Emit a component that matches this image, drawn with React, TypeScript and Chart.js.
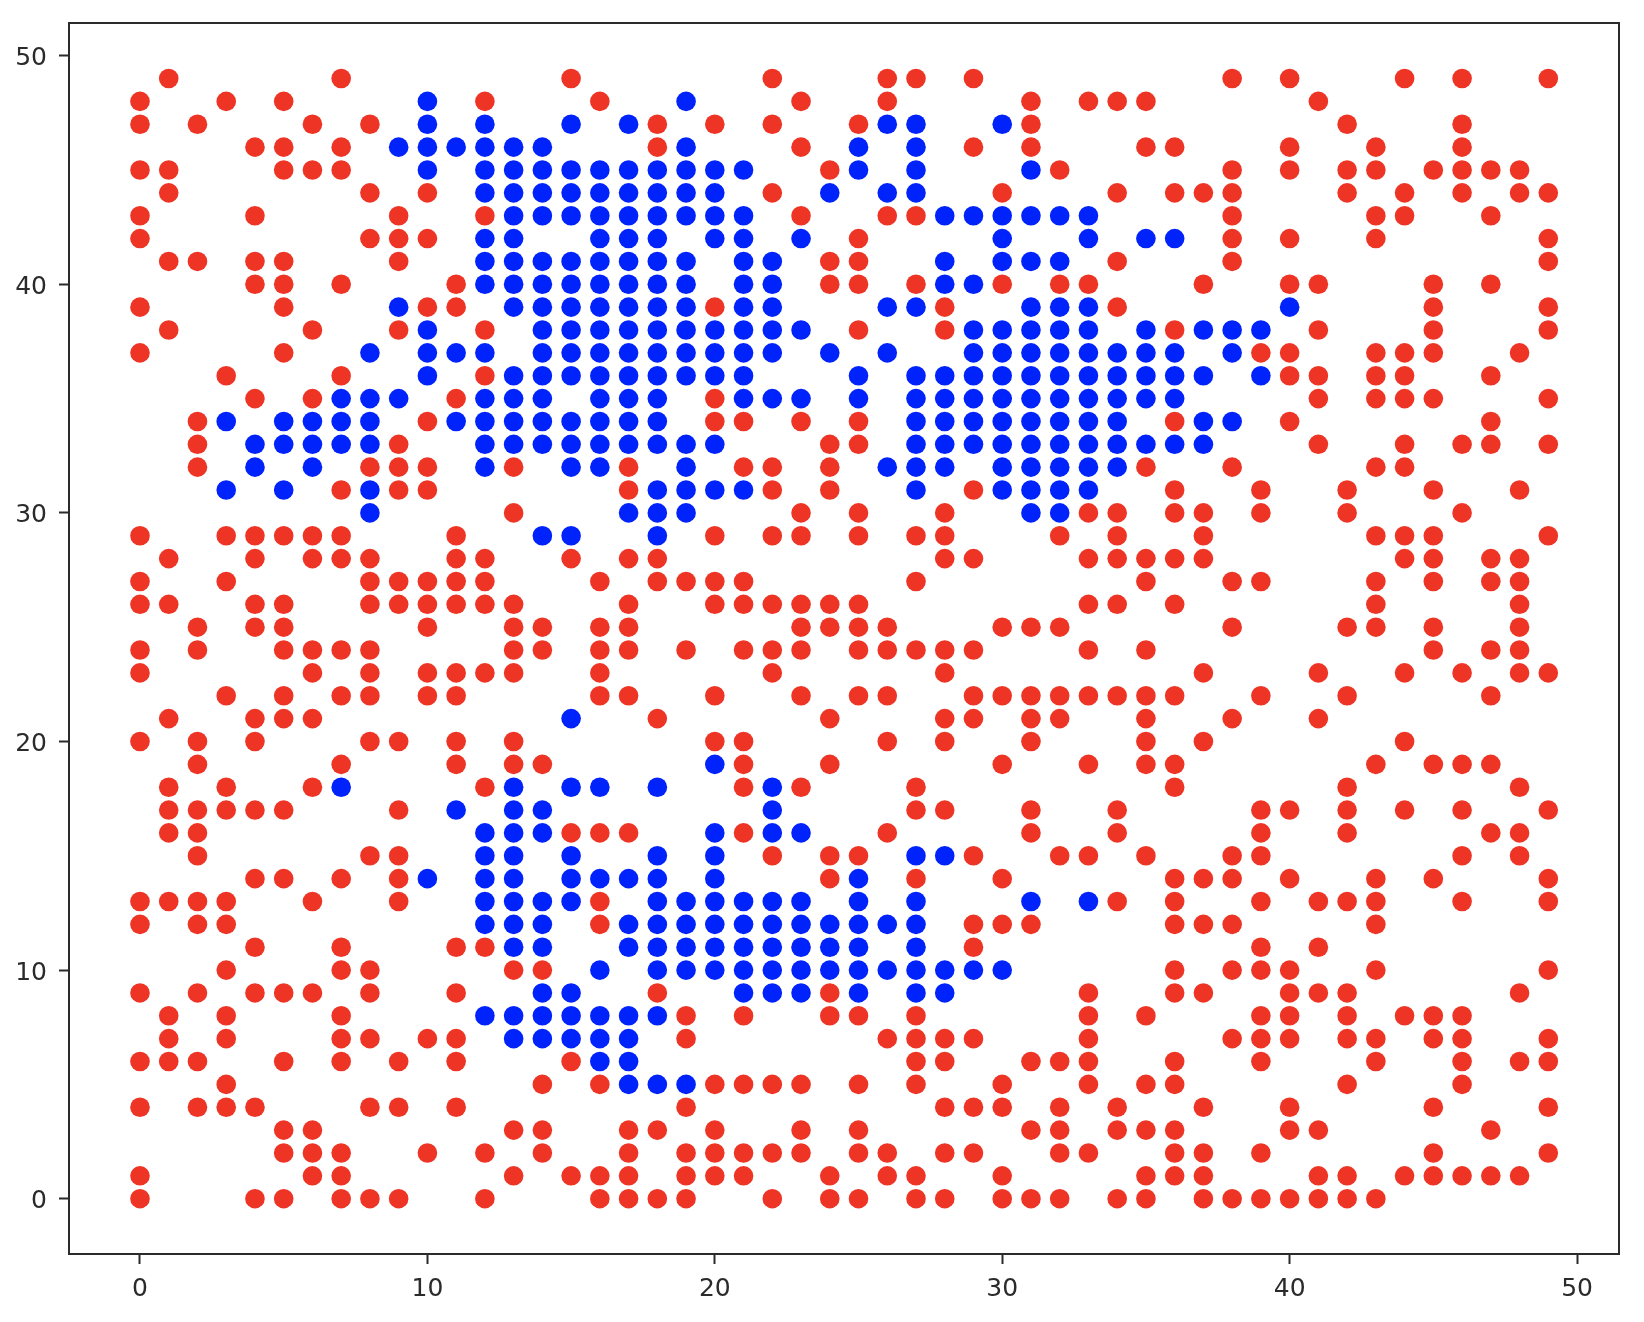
import React, { useEffect, useRef } from "react";
import { Chart, registerables } from "chart.js";

Chart.register(...registerables);

// x positions of the red points, one list per y value (index = y)
const redByRow: number[][] = [
  [0,4,5,7,8,9,12,16,17,18,19,22,24,25,27,28,30,31,32,34,35,37,38,39,40,41,42,43],
  [0,6,7,13,15,16,17,19,20,21,24,26,27,30,35,36,37,41,42,44,45,46,47,48],
  [5,6,7,10,12,14,17,19,20,21,22,23,25,26,28,29,32,33,36,37,39,45,49],
  [5,6,13,14,17,18,20,23,25,31,32,34,35,36,40,41,47],
  [0,2,3,4,8,9,11,19,28,29,30,32,34,37,40,45,49],
  [3,14,16,20,21,22,23,25,27,30,33,35,36,42,46],
  [0,1,2,5,7,9,11,15,27,28,31,32,33,36,39,43,46,48,49],
  [1,3,7,8,10,11,19,26,27,28,29,33,38,39,40,42,43,45,46,49],
  [1,3,7,19,21,24,25,27,33,35,39,40,42,44,45,46],
  [0,2,4,5,6,8,11,18,24,33,36,37,40,41,42,48],
  [3,7,8,13,14,36,38,39,40,43,49],
  [4,7,11,12,29,39,41],
  [0,2,3,16,29,30,31,36,37,38,43],
  [0,1,2,3,6,9,16,34,36,39,41,42,43,46,49],
  [4,5,7,9,24,27,30,36,37,38,40,43,45,49],
  [2,8,9,22,24,25,29,32,33,35,38,39,46,48],
  [1,2,15,16,17,21,26,31,34,39,42,47,48],
  [1,2,3,4,5,9,27,28,31,34,39,40,42,44,46,49],
  [1,3,6,12,21,23,27,36,42,48],
  [2,7,11,13,14,21,24,30,33,35,36,43,45,46,47],
  [0,2,4,8,9,11,13,20,21,26,28,31,35,37,44],
  [1,4,5,6,18,24,28,29,31,32,35,38,41],
  [3,5,7,8,10,11,16,17,20,23,25,26,29,30,31,32,33,34,35,36,39,42,47],
  [0,6,8,10,11,12,13,16,22,28,37,41,44,46,48,49],
  [0,2,5,6,7,8,13,14,16,17,19,21,22,23,25,26,27,28,29,33,35,45,47,48],
  [2,4,5,10,13,14,16,17,23,24,25,26,30,31,32,38,42,43,45,48],
  [0,1,4,5,8,9,10,11,12,13,17,20,21,22,23,24,25,33,34,36,43,48],
  [0,3,8,9,10,11,12,16,18,19,20,21,27,35,38,39,43,45,47,48],
  [1,4,6,7,8,11,12,15,17,18,28,29,33,34,35,36,37,44,45,47,48],
  [0,3,4,5,6,7,11,20,22,23,25,27,28,32,34,37,43,44,45,49],
  [13,23,25,28,33,34,36,37,39,42,46],
  [7,9,10,17,22,24,29,36,39,42,45,48],
  [2,8,9,10,13,17,21,22,24,35,38,43,44],
  [2,9,24,25,41,44,46,47,49],
  [2,10,20,21,23,25,36,40,47],
  [4,6,11,20,41,43,44,45,49],
  [3,7,12,40,41,43,44,47],
  [0,5,39,40,43,44,45,48],
  [1,6,9,12,25,28,36,41,45,49],
  [0,5,10,11,20,28,34,45,49],
  [4,5,7,11,24,25,27,30,32,33,37,40,41,45,47],
  [1,2,4,5,9,24,25,34,38,49],
  [0,8,9,10,25,38,40,43,49],
  [0,4,9,12,23,26,27,38,43,44,47],
  [1,8,10,22,30,34,36,37,38,42,44,46,48,49],
  [0,1,5,6,7,24,32,38,40,42,43,45,46,47,48],
  [4,5,7,18,23,29,31,35,36,40,43,46],
  [0,2,6,8,18,20,22,25,31,42,46],
  [0,3,5,12,16,23,26,31,33,34,35,41],
  [1,7,15,22,26,27,29,38,40,44,46,49],
];

// x positions of the blue points, one list per y value (index = y)
const blueByRow: number[][] = [
  [], [], [], [], [],
  [17,18,19],
  [16,17],
  [13,14,15,16,17],
  [12,13,14,15,16,17,18],
  [14,15,21,22,23,25,27,28],
  [16,18,19,20,21,22,23,24,25,26,27,28,29,30],
  [13,14,17,18,19,20,21,22,23,24,25,27],
  [12,13,14,17,18,19,20,21,22,23,24,25,26,27],
  [12,13,14,15,18,19,20,21,22,23,25,27,31,33],
  [10,12,13,15,16,17,18,20,25],
  [12,13,15,18,20,27,28],
  [12,13,14,20,22,23],
  [11,13,14,22],
  [7,13,15,16,18,22],
  [20],
  [],
  [15],
  [], [], [], [], [], [],
  [],
  [14,15,18],
  [8,17,18,19,31,32],
  [3,5,8,18,19,20,21,27,30,31,32,33],
  [4,6,12,15,16,19,26,27,28,30,31,32,33,34],
  [4,5,6,7,8,12,13,14,15,16,17,18,19,20,27,28,29,30,31,32,33,34,35,36,37],
  [3,5,6,7,8,11,12,13,14,15,16,17,18,27,28,29,30,31,32,33,34,37,38],
  [7,8,9,12,13,14,16,17,18,21,22,23,25,27,28,29,30,31,32,33,34,35,36],
  [10,13,14,15,16,17,18,19,20,21,25,27,28,29,30,31,32,33,34,35,36,37,39],
  [8,10,11,12,14,15,16,17,18,19,20,21,22,24,26,29,30,31,32,33,34,35,36,38],
  [10,14,15,16,17,18,19,20,21,22,23,29,30,31,32,33,35,37,38,39],
  [9,13,14,15,16,17,18,19,21,22,26,27,31,32,33,40],
  [12,13,14,15,16,17,18,19,21,22,28,29],
  [12,13,14,15,16,17,18,19,21,22,28,30,31,32],
  [12,13,16,17,18,20,21,23,30,33,35,36],
  [13,14,15,16,17,18,19,20,21,28,29,30,31,32,33],
  [12,13,14,15,16,17,18,19,20,24,26,27],
  [10,12,13,14,15,16,17,18,19,20,21,25,27,31],
  [9,10,11,12,13,14,19,25,27],
  [10,12,15,17,26,27,30],
  [10,19],
  [],
];

const RED = "#ee3424";
const BLUE = "#0022fb";
const INK = "#2b2b2b";

const toPoints = (rows: number[][]) =>
  rows.flatMap((xs, y) => xs.map((x) => ({ x, y })));

const frame = {
  id: "frame",
  beforeDraw(chart: Chart) {
    // the y tick labels sit a little lower than the browser's "middle" baseline
    const items = (chart.scales.y as any).getLabelItems(chart.chartArea);
    items.forEach((item: any) => {
      if (item.nudged) return;
      item.nudged = true;
      const [x, y] = item.options.translation;
      item.options.translation = [x, y + 3];
    });
  },
  afterDraw(chart: Chart) {
    const { ctx, chartArea: a } = chart;
    ctx.save();
    ctx.strokeStyle = INK;
    ctx.lineWidth = 2;
    ctx.strokeRect(a.left, a.top, a.right - a.left, a.bottom - a.top);
    ctx.restore();
  },
};

export default function App() {
  const ref = useRef<HTMLCanvasElement>(null);
  useEffect(() => {
    const font = { family: "'DejaVu Sans'", size: 25 };
    const axis = (min: number, max: number, padding: number) => ({
      type: "linear" as const,
      min,
      max,
      border: { display: false },
      grid: {
        drawOnChartArea: false,
        drawTicks: true,
        tickLength: 10,
        tickColor: INK,
        tickWidth: 2,
      },
      ticks: {
        stepSize: 10,
        includeBounds: false,
        color: INK,
        font,
        padding,
        maxRotation: 0,
      },
    });
    const chart = new Chart(ref.current!, {
      type: "scatter",
      data: {
        datasets: [
          {
            data: toPoints(redByRow),
            backgroundColor: RED,
            borderWidth: 0,
            pointRadius: 9.8,
          },
          {
            data: toPoints(blueByRow),
            backgroundColor: BLUE,
            borderWidth: 0,
            pointRadius: 9.8,
          },
        ],
      },
      options: {
        responsive: false,
        animation: false,
        layout: { padding: { left: 0, top: 23, right: 25, bottom: 0 } },
        plugins: {
          legend: { display: false },
          tooltip: { enabled: false },
        },
        scales: {
          x: {
            ...axis(-2.47, 51.46, 10),
            afterFit: (s: any) => {
              s.height = 68;
              s.paddingLeft = 0;
              s.paddingRight = 0;
            },
          },
          y: {
            ...axis(-2.42, 51.43, 12),
            afterFit: (s: any) => {
              s.width = 69;
              s.paddingTop = 0;
              s.paddingBottom = 0;
            },
          },
        },
      },
      plugins: [frame],
    });
    return () => chart.destroy();
  }, []);
  return (
    <canvas
      ref={ref}
      width={1644}
      height={1322}
      style={{ position: "absolute", left: 0, top: 0, display: "block" }}
    />
  );
}
